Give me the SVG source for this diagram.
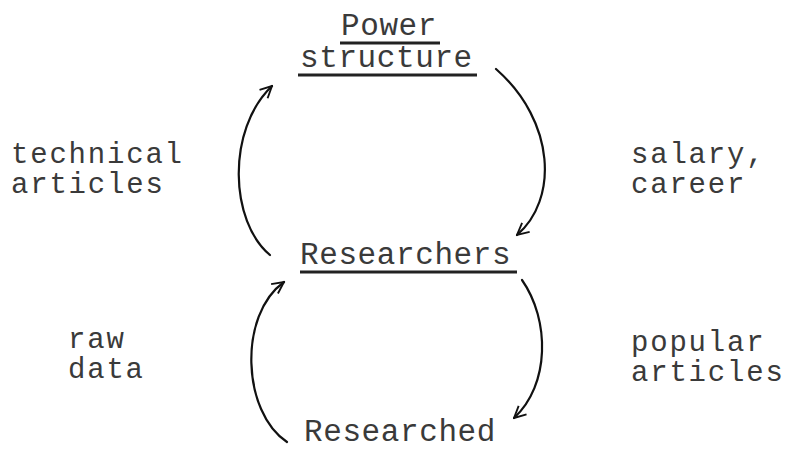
<svg xmlns="http://www.w3.org/2000/svg" width="788" height="450" viewBox="0 0 788 450">
<style>
text{font-family:"Liberation Mono","Courier New",monospace;font-size:31px;letter-spacing:0.6px;fill:#3a3a3a}
.lbl{font-size:29px;letter-spacing:1.8px}
.ul{stroke:#222;stroke-width:3}
.arc{fill:none;stroke:#111;stroke-width:2.2;stroke-linecap:round}
</style>
<defs>
<marker id="ah" viewBox="0 0 12 12" refX="11" refY="6" markerWidth="14" markerHeight="14" markerUnits="userSpaceOnUse" orient="auto">
<path d="M1,1 L11,6 L1,11" fill="none" stroke="#111" stroke-width="1.6"/>
</marker>
</defs>
<rect width="788" height="450" fill="#fff"/>
<g id="power">
<text x="341" y="35">Power</text>
<line class="ul" x1="340" y1="43" x2="440" y2="43"/>
<text x="300" y="67">structure</text>
<line class="ul" x1="298" y1="75" x2="477" y2="75"/>
</g>
<g id="researchers">
<text x="300" y="264">Researchers</text>
<line class="ul" x1="300" y1="272" x2="517" y2="272"/>
</g>
<g id="researched">
<text x="304" y="441">Researched</text>
</g>
<g id="labels">
<text class="lbl" x="11" y="163">technical</text>
<text class="lbl" x="11" y="193">articles</text>
<text class="lbl" x="631" y="163">salary,</text>
<text class="lbl" x="631" y="193">career</text>
<text class="lbl" x="68" y="348">raw</text>
<text class="lbl" x="68" y="378">data</text>
<text class="lbl" x="631" y="351">popular</text>
<text class="lbl" x="631" y="381">articles</text>
</g>
<g id="connectors">
<path class="arc" d="M270,255 C230,222 226,130 272,86" marker-end="url(#ah)"/>
<path class="arc" d="M496,69 C556,122 558,200 517,235" marker-end="url(#ah)"/>
<path class="arc" d="M287,442 C242,412 238,315 284,282" marker-end="url(#ah)"/>
<path class="arc" d="M522,280 C550,320 550,385 514,418" marker-end="url(#ah)"/>
</g>
</svg>
